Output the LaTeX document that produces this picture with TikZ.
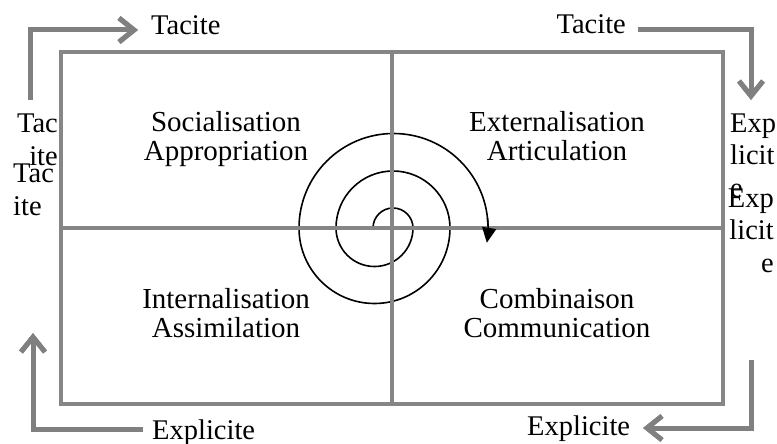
\documentclass[tikz,border=0pt]{standalone}
\usepackage{fontspec}
\setmainfont{Liberation Serif}
\usetikzlibrary{arrows.meta}
\definecolor{boxgray}{RGB}{134,134,134}
\definecolor{arrgray}{RGB}{128,128,128}
\definecolor{shadgray}{RGB}{168,168,168}
\begin{document}
\begin{tikzpicture}[x=1pt,y=-1pt,
  boxline/.style={draw=boxgray,line width=4pt},
  flow/.style={draw=arrgray,line width=5pt,-{Straight Barb[length=15pt,width=24pt]}},
  flowshadow/.style={draw=shadgray,line width=5pt,-{Straight Barb[length=15pt,width=24pt]},shift={(1.5,2)}},
  lbl/.style={font=\fontsize{28.5}{32.5}\selectfont,inner sep=0pt},
  quad/.style={font=\fontsize{29}{28.5}\selectfont,inner sep=0pt,align=center,anchor=base},
  spiral/.style={draw=black,line width=1.6pt}]
\useasboundingbox (0,0) rectangle (777,444);
% spiral
\draw[spiral] (373,228)
  arc[start angle=180,end angle=360,radius=20]
  arc[start angle=0,end angle=180,radius=38.5]
  arc[start angle=180,end angle=360,radius=57]
  arc[start angle=0,end angle=180,radius=75.5]
  arc[start angle=180,end angle=360,radius=94.5];
% box
\coordinate (TL) at (61,52);
\coordinate (BR) at (723,404);
\coordinate (TM) at (392,52);
\coordinate (BM) at (392,404);
\coordinate (ML) at (61,228);
\coordinate (MR) at (723,228);
\draw[boxline] (TL) rectangle (BR);
\draw[boxline] (TM) -- (BM);
\draw[boxline] (ML) -- (MR);
% spiral arrow tip
\draw[spiral,-{Triangle[length=15pt,width=14pt]}] (393.5,228)++(354:94.5) arc[start angle=354,end angle=369,radius=94.5];
% corner arrows
\coordinate (a1s) at (30,100); \coordinate (a1c) at (30,30); \coordinate (a1e) at (138,30);
\coordinate (a2s) at (638,30); \coordinate (a2c) at (751,30); \coordinate (a2e) at (751,100);
\coordinate (a3s) at (751,360); \coordinate (a3c) at (751,428); \coordinate (a3e) at (643,428);
\coordinate (a4s) at (143,429); \coordinate (a4c) at (33,429); \coordinate (a4e) at (33,333);
\foreach \s/\c/\e in {a1s/a1c/a1e,a2s/a2c/a2e,a3s/a3c/a3e,a4s/a4c/a4e}{
  \draw[flowshadow] (\s) -- (\c) -- (\e);
  \draw[flow] (\s) -- (\c) -- (\e);
}
% labels
\node[lbl,anchor=base west] (t1) at (151,35) {Tacite};
\node[lbl,anchor=base east] (t2) at (626,34) {Tacite};
\node[lbl,anchor=base west] (e1) at (152,439) {Explicite};
\node[lbl,anchor=base west] (e2) at (527,435) {Explicite};
\node[lbl,align=right,anchor=base east] (tac1) at (58,165) {Tac\\ite};
\node[lbl,align=left,anchor=base west] (tac2) at (13,215) {Tac\\ite};
\node[lbl,align=left,anchor=base west] (exp1) at (730,197) {Exp\\licit\\e};
\node[lbl,align=right,anchor=base east] (exp2) at (774,272) {Exp\\licit\\e};
% quadrants
\node[quad] (soc) at (226,160) {Socialisation\\Appropriation};
\node[quad] (ext) at (557,160) {Externalisation\\Articulation};
\node[quad] (int) at (226,337) {Internalisation\\Assimilation};
\node[quad] (com) at (557,337) {Combinaison\\Communication};
\end{tikzpicture}
\end{document}
